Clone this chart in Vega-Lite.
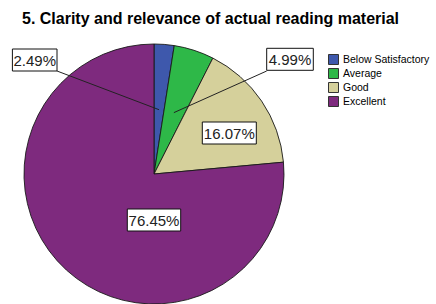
{
  "$schema": "https://vega.github.io/schema/vega-lite/v6.json",
  "width": 436,
  "height": 274,
  "autosize": {"type": "none"},
  "padding": {"left": 0, "top": 30, "right": 0, "bottom": 0},
  "background": "white",
  "config": {"view": {"stroke": null}},
  "title": {
    "text": "5. Clarity and relevance of actual reading material",
    "anchor": "start",
    "frame": "group",
    "dx": 22,
    "offset": -10,
    "baseline": "alphabetic",
    "font": "Liberation Sans",
    "fontSize": 16,
    "fontWeight": "bold",
    "color": "#000"
  },
  "data": {
    "values": [
      {"category": "Below Satisfactory", "percent": 2.49, "label": "2.49%"},
      {"category": "Average", "percent": 4.99, "label": "4.99%"},
      {"category": "Good", "percent": 16.07, "label": "16.07%"},
      {"category": "Excellent", "percent": 76.45, "label": "76.45%"}
    ]
  },
  "layer": [
    {
      "mark": {"type": "arc", "outerRadius": 130, "stroke": "#1a1a1a", "strokeWidth": 0.9},
      "encoding": {
        "x": {"datum": 0, "type": "quantitative", "scale": {"domain": [-154, 282], "nice": false, "zero": false}, "axis": null},
        "y": {"datum": 0, "type": "quantitative", "scale": {"domain": [-130, 144], "nice": false, "zero": false}, "axis": null},
        "theta": {"field": "percent", "type": "quantitative", "stack": true},
        "order": {"field": "percent", "type": "quantitative", "sort": "ascending"},
        "color": {
          "field": "category",
          "type": "nominal",
          "scale": {
            "domain": ["Below Satisfactory", "Average", "Good", "Excellent"],
            "range": ["#3E58AC", "#2EB848", "#D5D09B", "#7E2A7E"]
          },
          "legend": {
            "title": null,
            "orient": "none",
            "legendX": 328,
            "legendY": 24,
            "padding": 0,
            "symbolType": "square",
            "symbolSize": 100,
            "symbolStrokeColor": "#333",
            "symbolStrokeWidth": 1,
            "labelFont": "Liberation Sans",
            "labelFontSize": 10.5,
            "labelColor": "#000",
            "labelOffset": 4,
            "rowPadding": -1
          }
        }
      }
    },
    {
      "transform": [
        {"filter": "datum.percent < 10"},
        {"stack": "percent", "groupby": [], "sort": [{"field": "percent", "order": "ascending"}], "as": ["p0", "p1"]},
        {"calculate": "PI*(datum.p0+datum.p1)/100", "as": "mid"},
        {"calculate": "64.5*sin(datum.mid)", "as": "ex"},
        {"calculate": "64.5*cos(datum.mid)", "as": "ey"},
        {"calculate": "datum.category=='Below Satisfactory' ? -97 : 112.7", "as": "cx"},
        {"calculate": "103", "as": "cy"}
      ],
      "mark": {"type": "rule", "stroke": "#222", "strokeWidth": 1},
      "encoding": {
        "x": {"field": "cx", "type": "quantitative"},
        "y": {"field": "cy", "type": "quantitative"},
        "x2": {"field": "ex"},
        "y2": {"field": "ey"}
      }
    },
    {
      "transform": [
        {"calculate": "datum.category=='Below Satisfactory' ? -119.3 : datum.category=='Average' ? 136 : datum.category=='Good' ? 75.3 : 0", "as": "lx"},
        {"calculate": "datum.category=='Below Satisfactory' ? 114 : datum.category=='Average' ? 114.7 : datum.category=='Good' ? 41 : -46", "as": "ly"}
      ],
      "layer": [
        {
          "mark": {"type": "point", "filled": true, "fill": "white", "stroke": "#111", "strokeWidth": 1, "size": 4, "opacity": 1},
          "encoding": {
            "x": {"field": "lx", "type": "quantitative"},
            "y": {"field": "ly", "type": "quantitative"},
            "shape": {
              "field": "label",
              "type": "nominal",
              "scale": {
                "domain": ["2.49%", "4.99%", "16.07%", "76.45%"],
                "range": [
                  "M-22.3,-11H22.3V11H-22.3Z",
                  "M-23.3,-11H23.3V11H-23.3Z",
                  "M-27,-11H27V11H-27Z",
                  "M-26.7,-11H26.7V11H-26.7Z"
                ]
              },
              "legend": null
            }
          }
        },
        {
          "mark": {"type": "text", "font": "Liberation Sans", "fontSize": 15, "color": "#222", "align": "center", "baseline": "middle", "dy": 1},
          "encoding": {
            "x": {"field": "lx", "type": "quantitative"},
            "y": {"field": "ly", "type": "quantitative"},
            "text": {"field": "label", "type": "nominal"}
          }
        }
      ]
    }
  ]
}
